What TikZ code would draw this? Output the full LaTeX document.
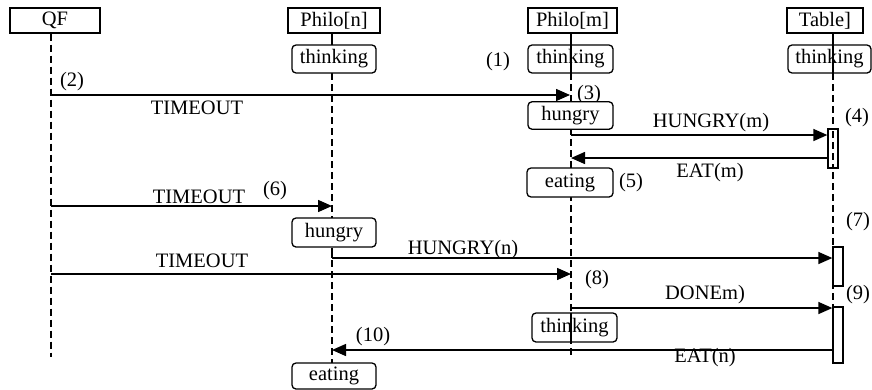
\documentclass[tikz,border=0pt]{standalone}
\usepackage{fontspec}
\setmainfont{Liberation Serif}
\usetikzlibrary{arrows.meta}
\begin{document}
\begin{tikzpicture}[x=1pt,y=-1pt,
  font=\fontsize{20.5}{24}\selectfont,
  headbox/.style={draw,line width=1.3pt,inner sep=0pt,minimum height=25pt},
  statebox/.style={draw,line width=1.3pt,rounded corners=4pt,inner sep=0pt,minimum height=28pt},
  actbox/.style={draw,line width=1.3pt,fill=white,inner sep=0pt,minimum width=10pt},
  lifeline/.style={line width=1.1pt,dash pattern=on 7pt off 4pt},
  solidline/.style={line width=1.1pt},
  msg/.style={line width=1.5pt,-{Triangle[length=14pt,width=12pt]}},
  msgtext/.style={inner sep=0pt},
]
\useasboundingbox (0,0) rectangle (872,389);

% heads
\node[headbox,minimum width=90pt] (qf) at (55,20.5) {QF};
\node[headbox,minimum width=92pt] (pn) at (334,20.5) {Philo[n]};
\node[headbox,minimum width=89pt] (pm) at (572.5,20.5) {Philo[m]};
\node[headbox,minimum width=76pt] (tb) at (825,20.5) {Table]};

% lifeline end coordinates
\coordinate (qfend) at (51,357);
\coordinate (pmend) at (571,357);
\coordinate (tbend) at (833,363);

% Philo[n] / QF lifelines (behind boxes)
\draw[lifeline] (qf.south -| qfend) -- (qfend);
\draw[solidline] (332,33) -- (332,45);
\draw[lifeline] (332,73) -- (332,363);

% Philo[m] lifeline
\draw[solidline] (571,33) -- (571,73);
\draw[lifeline] (571,73) -- (pmend);
\draw[solidline] (571,313) -- (571,342);

% Table lifeline
\draw[solidline] (833,33) -- (833,73);
\draw[lifeline] (833,73) -- (tbend);

% label drawn under the hungry box
\node[msgtext] (l3) at (589,95) {(3)};

% states
\node[statebox,minimum width=84pt,fill=white] (s1) at (334,59) {thinking};
\node[statebox,minimum width=85pt] (s2) at (570.5,59) {thinking};
\node[statebox,minimum width=83pt] (s3) at (829.5,59) {thinking};
\node[statebox,minimum width=85pt,minimum height=27.5pt,fill=white] (s4) at (570.5,115.5) {hungry};
\node[statebox,minimum width=86pt,minimum height=29pt,fill=white] (s5) at (570,182.5) {eating};
\node[statebox,minimum width=84pt,minimum height=29pt,fill=white] (s6) at (334,232.5) {hungry};
\node[statebox,minimum width=85pt,minimum height=29pt] (s7) at (574.5,327.5) {thinking};
\node[statebox,minimum width=84pt,minimum height=26pt,fill=white] (s8) at (334,376) {eating};

% short solid segments after state boxes
\draw[solidline] (s4.south -| pmend) -- (571,135);
\draw[solidline] (s6.south -| 332,0) -- (332,258);

% activations
\node[actbox,minimum height=39pt] (a4) at (833,148.5) {};
\node[actbox,minimum height=39pt] (a7) at (838,266.5) {};
\node[actbox,minimum height=56pt] (a9) at (838,335) {};
\draw[lifeline] (833,131) -- (833,168);

% message endpoints
\coordinate (m1s) at (51,95);   \coordinate (m1e) at (570,95);
\coordinate (m2s) at (571,135); \coordinate (m3e) at (571,158);
\coordinate (m4s) at (51,206);  \coordinate (m4e) at (332,206);
\coordinate (m5s) at (332,258);
\coordinate (m6s) at (51,274);  \coordinate (m6e) at (571,274);
\coordinate (m7s) at (571,308);
\coordinate (m8e) at (332,350);

% messages
\draw[msg] (m1s) -- (m1e);
\draw[msg] (m2s) -- (m2s -| a4.west);
\draw[msg] (m3e -| a4.west) -- (m3e);
\draw[msg] (m4s) -- (m4e);
\draw[msg] (m5s) -- (m5s -| a7.west);
\draw[msg] (m6s) -- (m6e);
\draw[msg] (m7s) -- (m7s -| a9.west);
\draw[msg] (m8e -| a9.west) -- (m8e);

% message labels
\node[msgtext] (t1) at (197,108) {TIMEOUT};
\node[msgtext] (t2) at (711,123) {HUNGRY(m)};
\node[msgtext] (t3) at (710,173) {EAT(m)};
\node[msgtext] (t4) at (199,197) {TIMEOUT};
\node[msgtext] (t5) at (463,250) {HUNGRY(n)};
\node[msgtext] (t6) at (202,261) {TIMEOUT};
\node[msgtext] (t7) at (705,295) {DONEm)};
\node[msgtext] (t8) at (705,358) {EAT(n)};

% step labels
\node[msgtext] (l1) at (498,62) {(1)};
\node[msgtext] (l2) at (72,82) {(2)};
\node[msgtext] (l4) at (857,118) {(4)};
\node[msgtext] (l5) at (631,183) {(5)};
\node[msgtext] (l6) at (275,191) {(6)};
\node[msgtext] (l7) at (858,222) {(7)};
\node[msgtext] (l8) at (597,280) {(8)};
\node[msgtext] (l9) at (858,295) {(9)};
\node[msgtext] (l10) at (373,337) {(10)};
\end{tikzpicture}
\end{document}
